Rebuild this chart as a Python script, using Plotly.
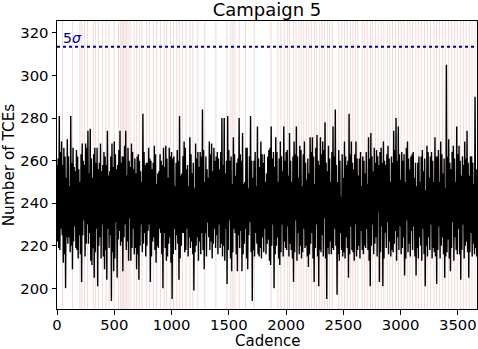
import plotly.graph_objects as go

# Number of TCEs per cadence (one value every 5 cadences)
cadence_step = 5
tce_counts = [
    258, 222, 261, 219, 281, 218, 264, 228, 269, 225, 258, 212, 266, 216, 262, 200, 252, 224, 270, 221,
    262, 224, 248, 217, 281, 220, 259, 209, 266, 222, 257, 229, 255, 219, 265, 218, 262, 214, 256, 225,
    250, 216, 263, 203, 268, 225, 260, 232, 258, 215, 268, 221, 266, 230, 274, 221, 254, 226, 275, 213,
    261, 211, 252, 219, 263, 205, 266, 217, 259, 228, 266, 201, 256, 220, 259, 224, 268, 214, 255, 230,
    258, 215, 264, 209, 262, 218, 258, 204, 274, 228, 253, 219, 255, 225, 262, 194, 268, 217, 257, 208,
    269, 214, 263, 231, 256, 205, 258, 223, 265, 227, 274, 220, 259, 222, 262, 208, 262, 224, 267, 230,
    274, 218, 253, 222, 266, 213, 260, 233, 257, 213, 268, 219, 264, 228, 256, 216, 261, 219, 254, 209,
    262, 216, 263, 204, 260, 220, 255, 230, 250, 217, 282, 221, 264, 226, 258, 215, 259, 220, 259, 227,
    266, 230, 261, 203, 260, 215, 256, 222, 259, 224, 267, 218, 263, 212, 249, 220, 254, 219, 255, 228,
    263, 226, 260, 216, 258, 200, 266, 226, 257, 219, 267, 213, 261, 215, 252, 221, 266, 224, 262, 212,
    264, 195, 261, 216, 262, 228, 248, 218, 259, 225, 265, 221, 260, 204, 281, 214, 253, 220, 254, 226,
    262, 226, 269, 217, 266, 218, 256, 228, 258, 215, 248, 224, 271, 219, 263, 222, 254, 216, 259, 199,
    247, 217, 268, 220, 261, 224, 264, 213, 257, 222, 264, 216, 262, 226, 284, 218, 265, 209, 250, 226,
    262, 215, 256, 231, 252, 224, 269, 218, 263, 222, 268, 214, 255, 221, 266, 228, 260, 219, 262, 225,
    264, 216, 261, 230, 256, 219, 264, 221, 280, 215, 258, 220, 280, 213, 254, 228, 260, 202, 281, 218,
    265, 232, 260, 214, 262, 208, 249, 217, 271, 228, 263, 226, 253, 216, 259, 208, 261, 225, 280, 219,
    263, 227, 260, 208, 273, 216, 249, 221, 250, 228, 266, 214, 266, 209, 247, 225, 262, 231, 281, 217,
    260, 194, 252, 218, 260, 215, 264, 226, 248, 221, 276, 216, 261, 215, 257, 219, 269, 214, 263, 224,
    259, 217, 263, 228, 250, 216, 254, 221, 262, 223, 265, 213, 266, 211, 276, 220, 261, 230, 264, 200,
    257, 216, 271, 220, 264, 224, 250, 214, 261, 211, 269, 217, 262, 230, 255, 215, 276, 222, 260, 219,
    264, 218, 265, 229, 253, 215, 273, 221, 260, 218, 250, 214, 262, 203, 269, 217, 263, 232, 276, 213,
    262, 226, 252, 216, 267, 220, 265, 214, 248, 217, 263, 228, 269, 219, 259, 220, 251, 215, 261, 210,
    254, 216, 271, 221, 264, 226, 271, 214, 262, 203, 249, 219, 266, 230, 272, 215, 260, 201, 258, 218,
    271, 217, 263, 225, 269, 215, 265, 233, 278, 214, 259, 195, 255, 219, 267, 216, 261, 222, 250, 216,
    264, 219, 276, 218, 262, 228, 284, 220, 258, 197, 250, 216, 265, 213, 260, 226, 243, 218, 263, 215,
    252, 217, 269, 214, 262, 224, 258, 219, 260, 205, 282, 216, 263, 229, 269, 218, 259, 217, 256, 213,
    263, 230, 269, 215, 261, 218, 253, 220, 261, 214, 264, 227, 248, 218, 262, 216, 260, 220, 254, 219,
    264, 228, 249, 218, 271, 213, 261, 201, 273, 220, 262, 230, 255, 216, 266, 221, 259, 224, 265, 215,
    262, 236, 258, 203, 264, 217, 266, 229, 259, 201, 269, 214, 260, 226, 258, 219, 263, 231, 267, 216,
    261, 222, 250, 215, 262, 218, 259, 217, 274, 221, 265, 227, 280, 213, 260, 224, 276, 218, 263, 229,
    251, 216, 264, 219, 260, 224, 263, 206, 250, 214, 266, 232, 269, 217, 261, 221, 256, 215, 262, 227,
    263, 218, 264, 229, 252, 215, 259, 206, 248, 219, 259, 214, 262, 224, 250, 220, 262, 213, 265, 228,
    255, 216, 261, 201, 246, 220, 267, 215, 264, 224, 252, 218, 262, 230, 264, 214, 260, 219, 250, 217,
    271, 215, 262, 202, 262, 218, 265, 229, 250, 214, 269, 220, 263, 224, 254, 216, 261, 205, 247, 215,
    305, 217, 262, 223, 270, 214, 259, 208, 256, 219, 264, 231, 267, 213, 261, 224, 250, 218, 276, 216,
    263, 228, 267, 216, 260, 204, 253, 218, 262, 230, 258, 214, 269, 220, 261, 222, 274, 217, 259, 205,
    253, 217, 262, 226, 262, 215, 259, 221, 249, 216, 290, 219, 256, 215,
]
cadences = [i * cadence_step for i in range(len(tce_counts))]

# Flagged cadences (light red vertical lines)
flagged_cadences = [
    48, 136, 200, 218, 241, 267, 317, 334, 361, 398, 428, 454, 498, 538, 556,
    568, 579, 594, 605, 620, 638, 675, 696, 719, 742, 783, 807, 842, 871, 903,
    935, 958, 990, 1017, 1046, 1069, 1095, 1127, 1162, 1186,
    1229, 1290, 1387, 1483, 1518, 1535, 1553, 1591, 1646, 1722, 1868, 1929,
    1955, 1985, 2014, 2031, 2066, 2087, 2113, 2133, 2154, 2177, 2200, 2221,
    2247, 2264, 2294, 2314, 2337, 2361, 2381, 2404,
    2460, 2486, 2510, 2533, 2562, 2585, 2606, 2626, 2664, 2684, 2708, 2737,
    2754, 2781, 2804, 2830, 2854, 2883, 2906, 2929, 2956, 2982, 3005, 3029,
    3058, 3081, 3104, 3133, 3157, 3180, 3209, 3233, 3262, 3291, 3314, 3338,
    3367, 3390, 3419, 3446, 3472, 3495, 3524, 3548, 3571, 3600, 3623, 3650,
]

threshold_5sigma = 313.5
title_text = "Campaign 5"
x_label = "Cadence"
y_label = "Number of TCEs"
x_ticks = [0, 500, 1000, 1500, 2000, 2500, 3000, 3500]
y_ticks = [200, 220, 240, 260, 280, 300, 320]
x_range = [0, 3667]
y_range = [190.3, 325.6]

FONT = "DejaVu Sans"

fig = go.Figure()

for c in flagged_cadences:
    fig.add_shape(type="line", xref="x", yref="paper", x0=c, x1=c, y0=0, y1=1,
                  line=dict(color="rgba(205,120,120,0.28)", width=1), layer="below")

fig.add_trace(go.Scatter(x=cadences, y=tce_counts, mode="lines",
                         line=dict(color="black", width=1.4), showlegend=False,
                         hoverinfo="skip"))

fig.add_trace(go.Scatter(x=x_range, y=[threshold_5sigma, threshold_5sigma], mode="lines",
                         line=dict(color="#00008b", width=2, dash="dot"),
                         showlegend=False, hoverinfo="skip"))

fig.add_annotation(x=35, y=threshold_5sigma, xref="x", yref="y", text="5<i>σ</i>",
                   showarrow=False, xanchor="left", yanchor="bottom", yshift=-1,
                   font=dict(family=FONT, size=14, color="#00008b"))

# x-axis title placed just below the tick labels
fig.add_annotation(x=0.5, y=0, xref="paper", yref="paper", text=x_label,
                   showarrow=False, xanchor="center", yanchor="middle", yshift=-32,
                   borderpad=0,
                   font=dict(family=FONT, size=15, color="black"))

axis_common = dict(showline=True, linecolor="black", linewidth=1, mirror=True,
                   ticks="outside", ticklen=4.5, tickwidth=1, tickcolor="black",
                   showgrid=False, zeroline=False, automargin=False,
                   tickfont=dict(family=FONT, size=14.8, color="black"))

fig.update_xaxes(range=x_range, tickvals=x_ticks, ticklabelstandoff=-2, **axis_common)
fig.update_yaxes(range=y_range, tickvals=y_ticks,
                 title=dict(text=y_label, font=dict(family=FONT, size=15.3, color="black"),
                            standoff=4),
                 **axis_common)

fig.update_layout(
    width=478, height=349,
    margin=dict(l=57, r=1, t=21, b=40),
    paper_bgcolor="white", plot_bgcolor="white",
    title=dict(text=title_text, x=0.5, xref="paper", xanchor="center",
               y=0.971, yref="container", yanchor="middle",
               font=dict(family=FONT, size=18, color="black")),
)

fig.write_html("out.html", config={"displayModeBar": False},
               post_script="document.body.style.margin='0';document.body.style.overflow='hidden';")
